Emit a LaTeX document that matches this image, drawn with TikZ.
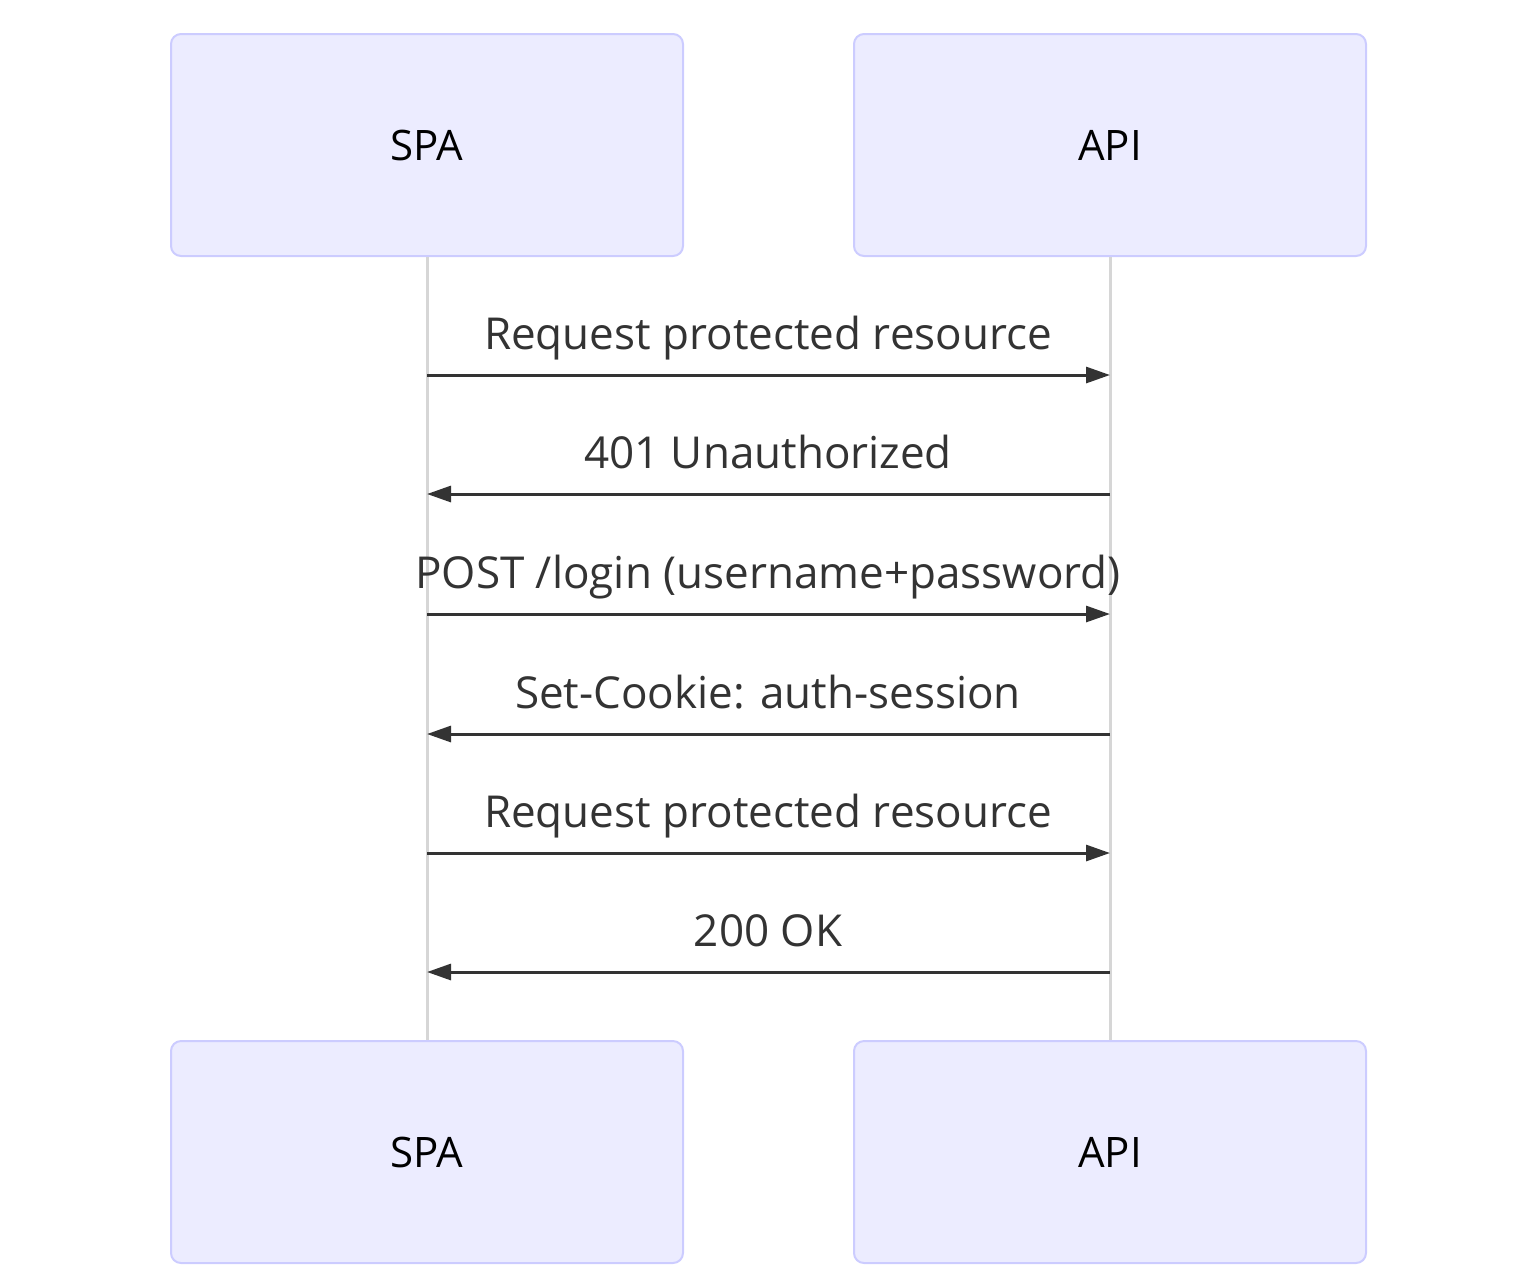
\documentclass[tikz,border=0pt]{standalone}
\usepackage{fontspec}
\setmainfont{Open Sans}
\usetikzlibrary{arrows.meta}
\definecolor{boxfill}{HTML}{ECECFF}
\definecolor{boxline}{HTML}{CCCCFF}
\definecolor{msg}{HTML}{333333}
\definecolor{life}{HTML}{D6D6D6}
\begin{document}
\begin{tikzpicture}[x=0.5pt,y=-0.5pt,
  actor/.style={draw=boxline,line width=1pt,fill=boxfill,rounded corners=5pt,minimum width=256pt,minimum height=111pt,font=\fontsize{21}{25}\selectfont,text=black},
  lifeline/.style={draw=life,line width=1.5pt},
  msgline/.style={draw=msg,line width=1.5pt,-{Triangle[length=12pt,width=8pt]}},
  lbl/.style={font=\fontsize{22}{26}\selectfont,text=msg}]
\useasboundingbox (0,0) rectangle (1536,1266);
\node[actor] (spaT) at (427,145) {SPA};
\node[actor] (apiT) at (1110,145) {API};
\node[actor] (spaB) at (427,1152) {SPA};
\node[actor] (apiB) at (1110,1152) {API};
\draw[lifeline] (spaT.south) -- (spaB.north);
\draw[lifeline] (apiT.south) -- (apiB.north);
\foreach \y/\d/\t [count=\i] in {375/r/{Request protected resource},494/l/{401 Unauthorized},614/r/{POST /login (username+password)},734/l/{Set-Cookie: auth-session},853/r/{Request protected resource},972/l/{200 OK}}{
  \coordinate (s\i) at (427,\y);
  \coordinate (a\i) at (1110,\y);
  \node[lbl,anchor=base] (l\i) at (768,\y-26) {\t};
  \if r\d \draw[msgline] (s\i) -- (a\i); \else \draw[msgline] (a\i) -- (s\i); \fi
}
\end{tikzpicture}
\end{document}
